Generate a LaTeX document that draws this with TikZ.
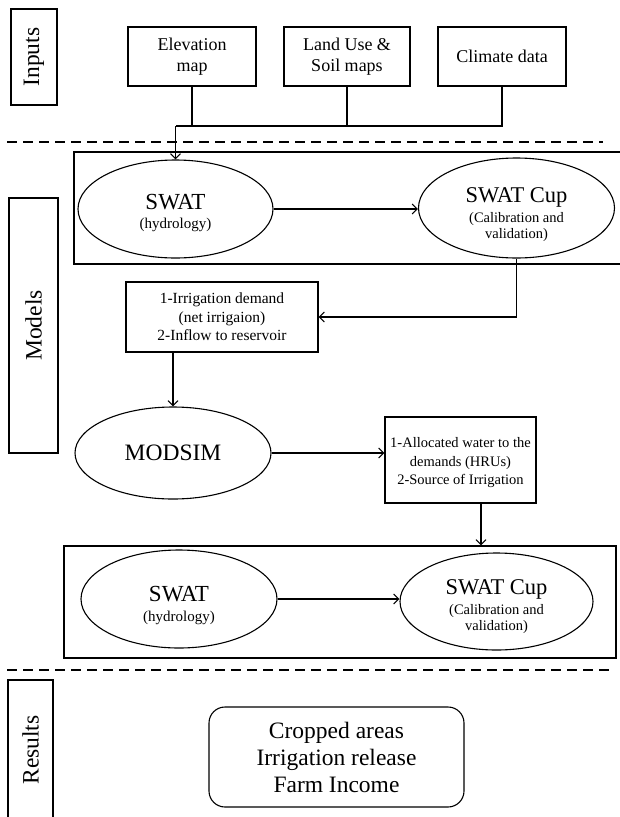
\documentclass[tikz,border=0pt]{standalone}
\usepackage{fontspec}
\setmainfont{Liberation Serif}
\usetikzlibrary{shapes.geometric,arrows.meta}
\begin{document}
\begin{tikzpicture}[x=1pt,y=-1pt,
  line width=1.1pt,
  box/.style={draw, rectangle, inner sep=0pt, align=center},
  ell/.style={draw, ellipse, inner sep=0pt, align=center},
  grp/.style={draw, rectangle, inner sep=0pt},
  arr/.style={-{Straight Barb[length=5pt,width=10pt]}},
  lab/.style={draw, rectangle, inner sep=0pt, rotate=90, font=\fontsize{23.5}{28}\selectfont},
  intxt/.style={font=\fontsize{18}{21}\selectfont},
  midtxt/.style={font=\fontsize{15.5}{18.5}\selectfont},
  alltxt/.style={font=\fontsize{14.5}{18.5}\selectfont},
  restxt/.style={font=\fontsize{23.5}{27}\selectfont},
  hydtxt/.style={inner sep=0pt, align=center, font=\fontsize{15}{17}\selectfont},
  caltxt/.style={inner sep=0pt, align=center, font=\fontsize{14.5}{16}\selectfont},
  sep/.style={dash pattern=on 10pt off 6pt, line width=1.1pt},
]
\useasboundingbox (0,0) rectangle (620,817);
\clip (0,0) rectangle (620,817);

% section labels
\node[lab, minimum width=96, minimum height=46] (inputs) at (34,57) {Inputs};
\node[lab, minimum width=255, minimum height=49] (models) at (33.5,325.5) {Models};
\node[lab, minimum width=140, minimum height=45] (results) at (30.5,750) {Results};

% inputs
\node[box, intxt, minimum width=128, minimum height=59] (elev) at (192,56.5) {Elevation\\map};
\node[box, intxt, minimum width=126, minimum height=59] (land) at (347,56.5) {Land Use \&\\Soil maps};
\node[box, intxt, minimum width=128, minimum height=59] (clim) at (502,56.5) {Climate data};

% separators
\draw[sep] (7,142) -- (603,142);
\draw[sep] (7,670) -- (612,670);

% first model group
\node[grp, minimum width=556, minimum height=112] (grp1) at (352,208) {};
\node[ell, minimum width=195, minimum height=98] (swat1) at (175.5,209) {};
\node[hydtxt] (swat1t) at (175.5,213) {{\fontsize{23}{26}\selectfont SWAT}\\[3pt](hydrology)};
\node[ell, minimum width=196, minimum height=100] (cup1) at (516.5,208) {};
\node[caltxt] (cup1t) at (516.5,215) {{\fontsize{22.5}{25}\selectfont SWAT Cup}\\[4pt](Calibration and\\validation)};

\coordinate (jy) at (0,126);
\coordinate (j1) at (swat1.north |- jy);
\draw (elev.south) -- (elev.south |- jy);
\draw (land.south) -- (land.south |- jy);
\draw (clim.south) |- (j1);
\draw[arr] (j1) -- (swat1.north);
\draw[arr] (swat1.east) -- (swat1.east -| cup1.west);

% demand
\node[box, midtxt, minimum width=192, minimum height=70] (demand) at (222,317)
  {1-Irrigation demand\\(net irrigaion)\\2-Inflow to reservoir};
\draw[arr] (cup1.south) |- (demand.east);

% modsim
\node[ell, font=\fontsize{23.5}{26}\selectfont, minimum width=196, minimum height=92] (modsim) at (173,453) {MODSIM};
\draw[arr] (modsim.north |- demand.south) -- (modsim.north);

% allocated
\node[box, minimum width=151, minimum height=86] (alloc) at (460.5,460) {};
\node[alltxt, inner sep=0pt, align=center] (alloct) at (460.5,463)
  {1-Allocated water to the\\demands (HRUs)\\2-Source of Irrigation};
\draw[arr] (modsim.east) -- (modsim.east -| alloc.west);

% second model group
\node[grp, minimum width=552, minimum height=112] (grp2) at (340,602) {};
\node[ell, minimum width=196, minimum height=98] (swat2) at (179,599) {};
\node[hydtxt] (swat2t) at (179,605) {{\fontsize{23}{26}\selectfont SWAT}\\[3pt](hydrology)};
\node[ell, minimum width=193, minimum height=97] (cup2) at (496.5,601.5) {};
\node[caltxt] (cup2t) at (496.5,607) {{\fontsize{22.5}{25}\selectfont SWAT Cup}\\[4pt](Calibration and\\validation)};
\coordinate (a2) at (481,0);
\draw[arr] (alloc.south -| a2) -- (grp2.north -| a2);
\draw[arr] (swat2.east) -- (swat2.east -| cup2.west);

% results
\node[draw, rounded corners=16pt, minimum width=255, minimum height=100, align=center, restxt] (res) at (336.5,757)
  {Cropped areas\\Irrigation release\\Farm Income};
\end{tikzpicture}
\end{document}
